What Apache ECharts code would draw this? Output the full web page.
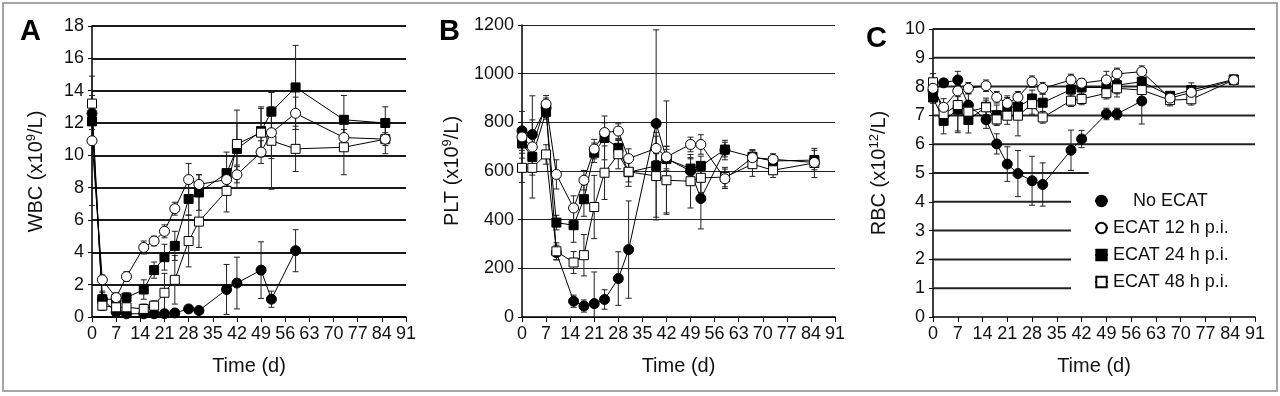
<!DOCTYPE html>
<html>
<head>
<meta charset="utf-8">
<title>WBC / PLT / RBC</title>
<script src="https://cdn.jsdelivr.net/npm/echarts@6/dist/echarts.min.js"></script>
<style>
html,body{margin:0;padding:0;background:#fff;}
#chart{width:1280px;height:396px;}
</style>
</head>
<body>
<div id="chart"></div>
<script>
// sampling days (d) shared by the three panels, null = no sample
var days = [0, 3, 7, 10, 15, 18, 21, 24, 28, 31, 39, 42, 49, 52, 59, 67, 73, 85];
var groups = ['No ECAT', 'ECAT 12 h p.i.', 'ECAT 24 h p.i.', 'ECAT 48 h p.i.'];

// A - WBC (x10^9/L)
var wbcNoEcat = [12.6, 1.1, 0.3, 0.2, 0.2, 0.2, 0.2, 0.25, 0.5, 0.4, 1.7, 2.1, 2.9, 1.1, 4.1, null, null, null];
var wbc12 = [10.9, 2.3, 1.2, 2.5, 4.3, 4.7, 5.3, 6.7, 8.5, 8.2, 8.5, 8.8, 10.2, 11.4, 12.6, null, 11.1, 11.0];
var wbc24 = [12.1, 1.1, 1.1, 1.2, 1.7, 2.9, 3.7, 4.4, 7.3, 7.7, 8.9, 10.4, 11.5, 12.7, 14.2, null, 12.2, 12.0];
var wbc48 = [13.2, 0.7, 0.6, 0.6, 0.5, 0.7, 1.5, 2.3, 4.7, 5.9, 7.8, 10.7, 11.4, 10.9, 10.4, null, 10.5, 11.0];
var wbcNoEcatErr = [0.5, 0.5, 0.2, 0.15, 0.15, 0.15, 0.15, 0.15, 0.15, 0.15, 1.55, 1.6, 1.75, 0.5, 1.3, null, null, null];
var wbc12Err = [4.0, 0.3, 0.3, 0.3, 0.4, 0.3, 0.4, 0.4, 1.0, 0.6, 0.4, 0.5, 0.7, 1.6, 1.0, null, 0.5, 0.4];
var wbc24Err = [0.5, 0.4, 0.3, 0.3, 0.6, 0.5, 0.8, 0.9, 1.0, 1.1, 1.3, 2.4, 1.5, 1.2, 2.6, null, 1.5, 1.0];
var wbc48Err = [0.5, 0.3, 0.3, 0.2, 0.3, 0.3, 1.2, 1.5, 1.6, 1.6, 1.3, 1.3, 1.5, 3.0, 1.4, null, 1.7, 0.9];

// B - PLT (x10^9/L)
var pltNoEcat = [765, 750, 860, 265, 65, 45, 55, 72, 158, 277, 795, 651, 600, 487, 686, null, null, null];
var plt12 = [740, 699, 875, 586, 448, 562, 690, 758, 764, 651, 693, 658, 709, 709, 568, 655, 648, 635];
var plt24 = [713, 658, 843, 388, 377, 484, 675, 736, 695, 595, 621, 649, 610, 621, 688, 658, 641, 645];
var plt48 = [613, 613, 668, 270, 224, 254, 452, 593, 669, 597, 579, 562, 558, 572, 575, 628, 603, 633];
var pltNoEcatErr = [80, 60, 40, 30, 25, 25, 130, 40, 110, 200, 385, 50, 50, 125, 40, null, null, null];
var plt12Err = [40, 210, 35, 60, 50, 40, 40, 40, 30, 40, 50, 230, 30, 40, 40, 30, 10, 15];
var plt24Err = [60, 40, 30, 30, 70, 70, 40, 90, 30, 40, 50, 40, 45, 40, 30, 30, 30, 40];
var plt48Err = [60, 30, 40, 35, 45, 85, 130, 110, 60, 60, 180, 140, 110, 60, 40, 50, 30, 60];

// C - RBC (x10^12/L)
var rbcNoEcat = [7.85, 8.13, 8.23, 7.36, 6.85, 6.01, 5.31, 4.98, 4.73, 4.6, 5.79, 6.18, 7.05, 7.05, 7.5, null, null, null];
var rbc12 = [7.94, 7.28, 7.85, 7.94, 8.03, 7.63, 7.42, 7.63, 8.17, 7.94, 8.23, 8.12, 8.23, 8.44, 8.52, 7.6, 7.8, 8.23];
var rbc24 = [7.62, 6.81, 7.2, 6.84, 7.3, 7.01, 7.28, 7.3, 7.58, 7.44, 7.9, 7.97, 7.97, 8.05, 8.17, 7.68, 7.88, 8.25];
var rbc48 = [8.15, 7.05, 7.36, 7.13, 7.28, 6.86, 6.99, 6.99, 7.39, 6.93, 7.51, 7.57, 7.77, 7.94, 7.88, 7.53, 7.56, 8.23];
var rbcNoEcatErr = [0.2, 0.1, 0.3, 0.4, 0.3, 0.35, 0.6, 0.8, 0.85, 0.75, 0.7, 0.3, 0.2, 0.2, 0.8, null, null, null];
var rbc12Err = [0.3, 0.3, 0.2, 0.2, 0.2, 0.2, 0.2, 0.2, 0.2, 0.2, 0.2, 0.15, 0.3, 0.2, 0.2, 0.1, 0.1, 0.15];
var rbc24Err = [0.2, 0.45, 0.8, 0.45, 0.3, 0.35, 0.4, 0.4, 0.3, 0.3, 0.3, 0.3, 0.3, 0.3, 0.3, 0.1, 0.25, 0.1];
var rbc48Err = [0.3, 0.3, 0.9, 0.3, 0.25, 0.2, 0.3, 0.7, 0.35, 0.2, 0.2, 0.2, 0.2, 0.3, 0.3, 0.2, 0.2, 0.1];

var FONT = 'Liberation Sans, Arial, sans-serif';

var panels = [
	{ vals: [wbcNoEcat, wbc12, wbc24, wbc48], errs: [wbcNoEcatErr, wbc12Err, wbc24Err, wbc48Err] },
	{ vals: [pltNoEcat, plt12, plt24, plt48], errs: [pltNoEcatErr, plt12Err, plt24Err, plt48Err] },
	{ vals: [rbcNoEcat, rbc12, rbc24, rbc48], errs: [rbcNoEcatErr, rbc12Err, rbc24Err, rbc48Err] }
];

// marker look per group
var marks = [
	{ symbol: 'circle', size: 10, fill: '#000' },
	{ symbol: 'circle', size: 10, fill: '#fff' },
	{ symbol: 'rect', size: 9, fill: '#000' },
	{ symbol: 'rect', size: 9, fill: '#fff' }
];

function pairs(vals, errs) {
	var out = [];
	for (var i = 0; i < days.length; i++) {
		if (vals[i] != null) out.push([days[i], vals[i], errs[i] || 0]);
	}
	return out;
}

function errorBar(params, api) {
	var x = api.value(0), y = api.value(1), e = api.value(2);
	if (!e) return;
	var hi = api.coord([x, y + e]);
	var lo = api.coord([x, Math.max(y - e, 0)]);
	var w = 3;
	var st = { stroke: '#222', lineWidth: 1 };
	var kids = [
		{ type: 'line', shape: { x1: hi[0], y1: hi[1], x2: lo[0], y2: lo[1] }, style: st },
		{ type: 'line', shape: { x1: hi[0] - w, y1: hi[1], x2: hi[0] + w, y2: hi[1] }, style: st }
	];
	if (y - e > 0) kids.push({ type: 'line', shape: { x1: lo[0] - w, y1: lo[1], x2: lo[0] + w, y2: lo[1] }, style: st });
	return { type: 'group', children: kids };
}

// shortened grid lines in panel C (legend sits over the low ones)
function gridLine(params, api) {
	var a = api.coord([0, api.value(0)]);
	var b = api.coord([api.value(1), api.value(0)]);
	return { type: 'line', shape: { x1: a[0], y1: a[1], x2: b[0], y2: b[1] }, style: { stroke: '#222', lineWidth: 2 } };
}

var grids = [
	{ left: 92, top: 26, width: 314, height: 291 },
	{ left: 522, top: 25, width: 313, height: 292 },
	{ left: 933, top: 29, width: 322, height: 288 }
];
var yScales = [
	{ max: 18, interval: 2, title: ['WBC (x10', '9', '/L)'], gap: 44, split: { color: '#1a1a1a', width: 2 } },
	{ max: 1200, interval: 200, title: ['PLT (x10', '9', '/L)'], gap: 58, split: { color: '#222', width: 1 } },
	{ max: 10, interval: 1, title: ['RBC (x10', '12', '/L)'], gap: 42, split: null }
];

var xAxes = [], yAxes = [], series = [];
for (var p = 0; p < 3; p++) {
	xAxes.push({
		type: 'value', gridIndex: p, min: 0, max: 91, interval: 7,
		name: 'Time (d)', nameLocation: 'middle', nameGap: 39,
		nameTextStyle: { fontFamily: FONT, fontSize: 20, color: '#111' },
		axisLine: { lineStyle: { color: '#000', width: 1.5 } },
		axisTick: { show: true, length: 5, lineStyle: { color: '#000' } },
		axisLabel: { fontFamily: FONT, fontSize: 18, color: '#111', margin: 8 },
		splitLine: { show: false }
	});
	var ys = yScales[p];
	yAxes.push({
		type: 'value', gridIndex: p, min: 0, max: ys.max, interval: ys.interval,
		name: '{a|' + ys.title[0] + '}{s|' + ys.title[1] + '}{a|' + ys.title[2] + '}',
		nameLocation: 'middle', nameGap: ys.gap,
		nameTextStyle: {
			rich: {
				a: { fontFamily: FONT, fontSize: 20, color: '#111', lineHeight: 23 },
				s: { fontFamily: FONT, fontSize: 13, color: '#111', verticalAlign: 'top', lineHeight: 23 }
			}
		},
		axisLine: { show: true, lineStyle: { color: '#000', width: 1.5 } },
		axisTick: { show: true, length: 4, lineStyle: { color: '#000' } },
		axisLabel: { fontFamily: FONT, fontSize: 18, color: '#111', margin: 8, formatter: function (v) { return String(v); } },
		splitLine: ys.split ? { show: true, lineStyle: { color: ys.split.color, width: ys.split.width } } : { show: false }
	});
}

// panel C grid lines
series.push({
	type: 'custom', xAxisIndex: 2, yAxisIndex: 2, silent: true, z: 1,
	renderItem: gridLine,
	encode: { x: 1, y: 0 },
	data: [[1, 39], [2, 39], [3, 39], [4, 39], [5, 44], [6, 91], [7, 91], [8, 91], [9, 91], [10, 91]]
});

for (var p = 0; p < 3; p++) {
	for (var g = 0; g < 4; g++) {
		var d = pairs(panels[p].vals[g], panels[p].errs[g]);
		series.push({
			type: 'custom', name: groups[g] + ' err', xAxisIndex: p, yAxisIndex: p, silent: true, z: 2,
			renderItem: errorBar, encode: { x: 0, y: 1 }, data: d
		});
	}
	var order = [0, 2, 3, 1];
	for (var k = 0; k < 4; k++) {
		var g2 = order[k];
		series.push({
			type: 'line', name: groups[g2], xAxisIndex: p, yAxisIndex: p, z: 3 + k,
			data: pairs(panels[p].vals[g2], panels[p].errs[g2]).map(function (r) { return [r[0], r[1]]; }),
			symbol: marks[g2].symbol, symbolSize: marks[g2].size, showAllSymbol: true,
			lineStyle: { color: '#000', width: 1 },
			itemStyle: { color: marks[g2].fill, borderColor: '#000', borderWidth: 1, opacity: 1 },
			animation: false
		});
	}
}

var myChart = echarts.init(document.getElementById('chart'), null, { renderer: 'canvas' });
var option = {
	backgroundColor: '#fff',
	animation: false,
	title: [
		{ text: 'A', left: 15, top: 12, textStyle: { fontFamily: FONT, fontSize: 29, fontWeight: 'bold', color: '#000' } },
		{ text: 'B', left: 434, top: 12, textStyle: { fontFamily: FONT, fontSize: 29, fontWeight: 'bold', color: '#000' } },
		{ text: 'C', left: 861, top: 19, textStyle: { fontFamily: FONT, fontSize: 29, fontWeight: 'bold', color: '#000' } }
	],
	legend: {
		orient: 'vertical', left: 1089, top: 187, itemGap: 9, itemWidth: 13, itemHeight: 13,
		data: groups,
		formatter: function (name) { return name == 'No ECAT' ? '    ' + name : name; },
		textStyle: { fontFamily: FONT, fontSize: 18, color: '#111' },
		selectedMode: false
	},
	graphic: [
		{ type: 'rect', shape: { x: 3, y: 3, width: 1274, height: 388 }, style: { fill: null, stroke: '#a6a6a6', lineWidth: 2 }, silent: true }
	],
	grid: grids,
	xAxis: xAxes,
	yAxis: yAxes,
	series: series
};
myChart.setOption(option);
</script>
</body>
</html>
